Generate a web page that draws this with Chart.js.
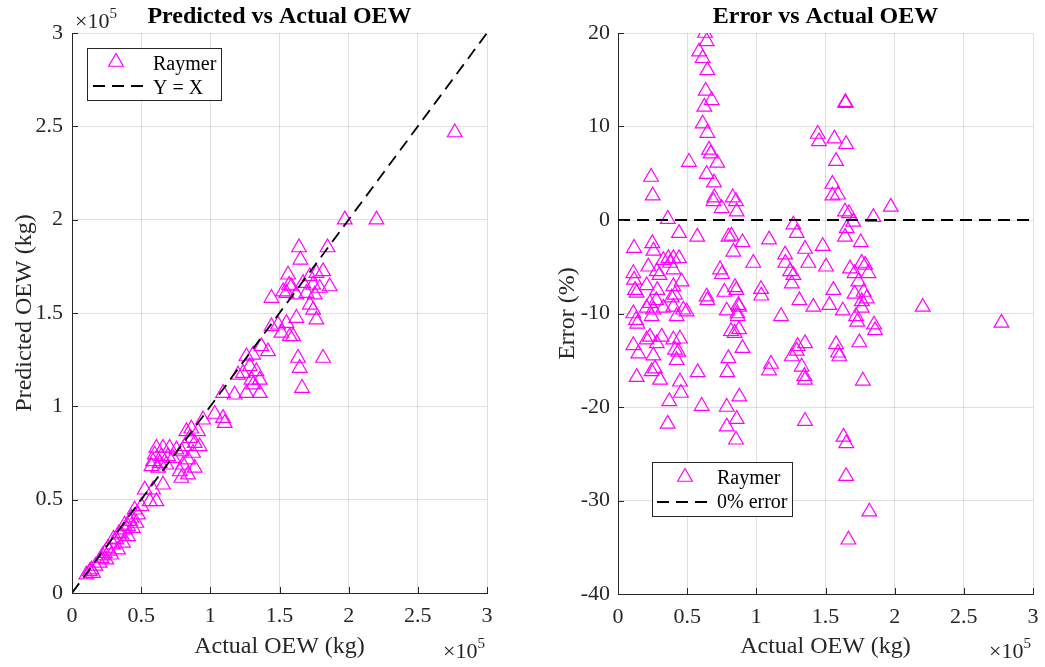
<!DOCTYPE html>
<html>
<head>
<meta charset="utf-8">
<script src="https://cdn.jsdelivr.net/npm/chart.js@4.4.1/dist/chart.umd.min.js"></script>
<style>
  html, body { margin: 0; padding: 0; background: #fff; }
  #wrap { position: relative; width: 1045px; height: 667px; }
  canvas { position: absolute; top: 0; }
  #left { left: 0; }
  #right { left: 522px; }
</style>
</head>
<body>
<div id="wrap">
  <canvas id="left" width="522" height="667"></canvas>
  <canvas id="right" width="523" height="667"></canvas>
</div>
<script>
var FONT = '"Liberation Serif", "Times New Roman", serif';
var INK = '#262626';
var GRID = 'rgba(38,38,38,0.15)';
var MAGENTA = '#ff00ff';

// left panel: actual OEW vs predicted OEW (kg), Raymer method
var predActual = [276700, 197200, 220100, 164100, 184700, 165100, 156200, 157000, 144200, 152600,
  158600, 167000, 171900, 176700, 181500, 174300, 179100, 186300, 169500, 175500,
  162200, 155000, 171900, 174300, 176700, 162200, 155000, 149000, 144200, 151400,
  157400, 159800, 163400, 164600, 181500, 166300, 141700, 136900, 130900, 126100,
  128500, 133300, 123600, 120000, 129700, 135700, 130900, 126100, 135700, 117600,
  109200, 103200, 109200, 110400, 94700, 82700, 86300, 91100, 85100, 88700,
  92300, 81500, 79100, 87500, 83900, 80300, 88700, 77900, 79100, 83900,
  61000, 65800, 70600, 75500, 59800, 64600, 69400, 73000, 58600, 63400,
  68200, 57400, 62200, 52600, 58600, 65800, 56200, 61000, 50200, 45300,
  47700, 43000, 46500, 40500, 44000, 38000, 35700, 40500, 32100, 36900,
  29600, 26000, 33300, 23600, 28400, 21200, 24800, 20000, 12800, 15200,
  10400, 14000, 30000, 38000, 42000, 34000, 22000, 17000, 27000];
var predValue = [246700, 200000, 200000, 185100, 185100, 178500, 170500, 165000, 158000, 161500,
  164200, 166000, 169600, 171400, 172300, 165100, 163400, 164200, 160700, 159800,
  159800, 160700, 154400, 151700, 146400, 147300, 144600, 143700, 142800, 139300,
  137500, 137500, 125900, 120500, 125900, 109800, 129400, 132100, 127600, 126700,
  121400, 118700, 117800, 116900, 114200, 114200, 111600, 107100, 107100, 106200,
  107100, 95900, 93700, 91000, 92800, 86600, 88000, 86600, 83000, 80300,
  78500, 78500, 75800, 75000, 71400, 68700, 67000, 65100, 61600, 63400,
  77700, 77700, 77700, 76800, 74100, 73200, 73200, 72300, 70500, 69600,
  68700, 67800, 67000, 55300, 55300, 58000, 49100, 49100, 46400, 44600,
  42000, 40200, 37500, 35700, 34800, 33900, 31200, 30300, 28600, 26800,
  25900, 24100, 23200, 21400, 20500, 18700, 17900, 16100, 11600, 10700,
  9800, 12500, 29000, 36500, 38500, 32000, 20000, 14500, 22500];

// right panel: actual OEW (kg) vs prediction error (%)
var errActual = [62900, 64100, 58600, 61200, 64600, 63400, 67700, 62400, 61200, 64600,
  65800, 67000, 71800, 51300, 23900, 25100, 64100, 69400, 69600, 69000,
  75000, 82900, 85300, 85800, 36000, 44100, 57300, 11600, 24800, 25600,
  79800, 82000, 90000, 83400, 109200, 97800, 120800, 129200, 126800, 135200,
  137600, 121000, 124400, 126800, 125600, 131100, 141200, 117900, 73800, 75200,
  84600, 85500, 76900, 103400, 103600, 64100, 64600, 78600, 87000, 87500,
  86300, 86500, 81700, 87500, 84300, 90000, 79800, 79000, 110600, 109200,
  129900, 129200, 125600, 135200, 132800, 134700, 135200, 57600, 44800, 45500,
  11100, 11600, 12300, 13500, 11100, 13000, 14000, 21900, 20700, 28000,
  30000, 32800, 36400, 40000, 44100, 37600, 40000, 46000, 40000, 28400,
  41200, 38800, 27700, 23100, 20700, 25500, 32800, 40000, 47200, 49600,
  42400, 24300, 11100, 14700, 20700, 23100, 28000, 31600, 25500, 40000,
  44800, 41200, 43600, 42400, 13500, 24300, 26700, 30400, 37100, 87700,
  35900, 60500, 78600, 85800, 78600, 85300, 135200, 164400, 164400, 144400,
  145300, 156400, 164900, 157600, 155000, 155000, 159000, 164100, 167000, 170000,
  184600, 197200, 165300, 164100, 175500, 148000, 150400, 167700, 176200, 178700,
  181000, 171000, 173800, 155700, 171000, 177600, 179800, 176200, 152800, 162500,
  176200, 172100, 173000, 185100, 185800, 220300, 277200, 157600, 159000, 160000,
  174500, 177000, 163000, 165000, 164900, 181700, 166600];
var errPercent = [20.0, 19.1, 18.0, 17.3, 16.0, 13.8, 12.8, 12.1, 10.3, 9.3,
  7.5, 7.1, 6.1, 6.2, 4.6, 2.6, 4.9, 4.0, 2.4, 2.0,
  1.25, 2.4, 2.0, 0.9, 0.1, -1.4, -1.8, -3.0, -2.5, -3.3,
  -1.8, -1.7, -2.4, -3.4, -2.1, -4.6, -3.7, -1.4, -0.5, -3.1,
  -4.6, -4.6, -5.5, -5.9, -6.8, -8.6, -9.3, -10.3, -5.3, -5.8,
  -7.2, -7.5, -7.7, -7.4, -8.1, -8.2, -8.6, -9.7, -9.1, -9.3,
  -10.0, -10.3, -11.9, -11.7, -12.1, -13.7, -14.8, -16.3, -15.4, -16.1,
  -13.5, -14.0, -14.6, -13.2, -15.7, -16.7, -17.1, -16.3, -17.3, -18.5,
  -5.7, -6.4, -7.5, -7.8, -10.0, -10.7, -11.1, -5.0, -7.0, -5.5,
  -5.9, -4.3, -4.1, -4.1, -4.1, -4.6, -5.3, -6.6, -7.1, -7.5,
  -8.0, -8.3, -8.6, -8.9, -9.4, -9.6, -9.4, -9.3, -9.6, -9.8,
  -10.3, -10.3, -13.4, -14.3, -12.8, -12.5, -13.2, -12.5, -14.5, -12.8,
  -12.7, -13.9, -14.1, -15.0, -16.8, -16.2, -15.9, -17.1, -19.4, -18.9,
  -21.8, -19.9, -20.0, -21.3, -22.1, -23.5, -21.5, 12.5, 12.6, 9.2,
  8.4, 8.7, 8.1, 6.3, 3.85, 2.6, 2.7, 0.9, 0.7, -0.2,
  0.3, 1.4, -0.9, -1.8, -2.4, -2.8, -5.0, -5.2, -4.6, -4.8,
  -5.7, -5.7, -6.6, -7.5, -7.9, -7.7, -8.4, -8.7, -9.1, -9.7,
  -9.4, -10.3, -10.9, -11.2, -11.8, -9.3, -11.0, -13.3, -14.2, -14.6,
  -13.1, -17.2, -23.2, -23.9, -27.4, -31.2, -34.2];

var MARKER = 8.5;

function zip(xs, ys) {
  return xs.map(function (x, i) { return { x: x, y: ys[i] }; });
}

function drawTriangle(ctx, x, y, r) {
  var s = r * Math.sin(Math.PI / 3);
  ctx.beginPath();
  ctx.moveTo(x, y - r);
  ctx.lineTo(x + s, y + r / 2);
  ctx.lineTo(x - s, y + r / 2);
  ctx.closePath();
  ctx.stroke();
}

function drawTimesTen(ctx, x, baseline, alignRight) {
  ctx.font = '22px ' + FONT;
  var w = ctx.measureText('\u00d710').width;
  ctx.font = '15px ' + FONT;
  var w5 = ctx.measureText('5').width;
  var x0 = alignRight ? x - w - w5 : x;
  ctx.textAlign = 'left';
  ctx.font = '22px ' + FONT;
  ctx.fillText('\u00d710', x0, baseline);
  ctx.font = '15px ' + FONT;
  ctx.fillText('5', x0 + w, baseline - 10);
}

function decor(cfg) {
  return {
    id: 'decor',
    afterDraw: function (chart) {
      var ctx = chart.ctx, a = chart.chartArea;
      var xs = chart.scales.x, ys = chart.scales.y;
      ctx.save();
      // inward tick marks
      ctx.strokeStyle = INK;
      ctx.lineWidth = 1;
      ctx.beginPath();
      xs.ticks.forEach(function (t) {
        var px = Math.round(xs.getPixelForValue(t.value)) + 0.5;
        ctx.moveTo(px, a.bottom); ctx.lineTo(px, a.bottom - 6);
      });
      ys.ticks.forEach(function (t) {
        var py = Math.round(ys.getPixelForValue(t.value)) + 0.5;
        ctx.moveTo(a.left, py); ctx.lineTo(a.left + 6, py);
      });
      ctx.stroke();

      var cx = (a.left + a.right) / 2;
      ctx.textBaseline = 'alphabetic';
      ctx.textAlign = 'center';
      ctx.fillStyle = '#000';
      ctx.font = 'bold 24px ' + FONT;
      ctx.fillText(cfg.title, cx, 23);

      ctx.fillStyle = INK;
      ctx.font = '24px ' + FONT;
      ctx.fillText(cfg.xLabel, cx, 653);
      ctx.save();
      ctx.translate(cfg.yLabelX, (a.top + a.bottom) / 2);
      ctx.rotate(-Math.PI / 2);
      ctx.fillText(cfg.yLabel, 0, 0);
      ctx.restore();

      // x10^5 multipliers
      drawTimesTen(ctx, a.right - 2, 658, true);
      if (cfg.topExp) drawTimesTen(ctx, a.left + 3, 28, false);

      // legend
      var L = cfg.legend;
      ctx.fillStyle = '#fff';
      ctx.fillRect(L.x, L.y, L.w, L.h);
      ctx.strokeStyle = INK;
      ctx.lineWidth = 1;
      ctx.strokeRect(L.x + 0.5, L.y + 0.5, L.w, L.h);
      ctx.strokeStyle = MAGENTA;
      ctx.lineWidth = 1.2;
      drawTriangle(ctx, L.mx, L.my, MARKER);
      ctx.strokeStyle = '#000';
      ctx.lineWidth = 1.8;
      ctx.setLineDash([12, 7]);
      ctx.beginPath();
      ctx.moveTo(L.dx0, L.dy); ctx.lineTo(L.dx1, L.dy);
      ctx.stroke();
      ctx.setLineDash([]);
      ctx.fillStyle = '#000';
      ctx.font = '20px ' + FONT;
      ctx.textAlign = 'left';
      ctx.fillText('Raymer', L.tx, L.b1);
      ctx.fillText(cfg.lineName, L.tx, L.b2);
      ctx.restore();
    }
  };
}

function axis(min, max, step, pad, kilo) {
  return {
    type: 'linear',
    min: min,
    max: max,
    ticks: {
      stepSize: step,
      color: INK,
      padding: pad,
      autoSkip: false,
      maxRotation: 0,
      font: { family: FONT, size: 22 },
      callback: function (v) { return kilo ? String(v / 1e5) : String(v); }
    },
    grid: { color: GRID, drawTicks: false },
    border: { color: INK, width: 1 }
  };
}

function fixX(h) {
  return function (s) { s.height = h; s.paddingLeft = 0; s.paddingRight = 0; s.paddingTop = 0; s.paddingBottom = 0; };
}
function fixY(w) {
  return function (s) { s.width = w; s.paddingLeft = 0; s.paddingRight = 0; s.paddingTop = 0; s.paddingBottom = 0; };
}

function scatterSet(points) {
  return {
    type: 'scatter',
    data: points,
    pointStyle: 'triangle',
    pointRadius: MARKER,
    pointBorderColor: MAGENTA,
    pointBackgroundColor: 'rgba(0,0,0,0)',
    pointBorderWidth: 1.2,
    order: 1
  };
}

function refLine(points) {
  return {
    type: 'line',
    data: points,
    borderColor: '#000',
    borderWidth: 1.8,
    borderDash: [12, 7],
    pointRadius: 0,
    fill: false,
    order: 0
  };
}

// left chart
var lx = axis(0, 300000, 50000, 10, true); lx.afterFit = fixX(74);
var ly = axis(0, 300000, 50000, 9, true); ly.afterFit = fixY(72);
new Chart(document.getElementById('left'), {
  type: 'scatter',
  data: { datasets: [scatterSet(zip(predActual, predValue)), refLine([{ x: 0, y: 0 }, { x: 300000, y: 300000 }])] },
  options: {
    responsive: false,
    animation: false,
    events: [],
    layout: { padding: { left: 0, top: 33, right: 35, bottom: 0 } },
    plugins: { legend: { display: false }, tooltip: { enabled: false } },
    scales: { x: lx, y: ly }
  },
  plugins: [decor({
    title: 'Predicted vs Actual OEW', xLabel: 'Actual OEW (kg)', yLabel: 'Predicted OEW (kg)',
    yLabelX: 31, topExp: true, lineName: 'Y = X',
    legend: { x: 87, y: 48, w: 134, h: 52, mx: 116, my: 62, tx: 153, b1: 70, b2: 94, dx0: 93, dx1: 148, dy: 86 }
  })]
});

// right chart
var rx = axis(0, 300000, 50000, 10, true); rx.afterFit = fixX(73);
var ry = axis(-40, 20, 10, 8, false); ry.afterFit = fixY(96);
new Chart(document.getElementById('right'), {
  type: 'scatter',
  data: { datasets: [scatterSet(zip(errActual, errPercent)), refLine([{ x: 0, y: 0 }, { x: 300000, y: 0 }])] },
  options: {
    responsive: false,
    animation: false,
    events: [],
    layout: { padding: { left: 0, top: 33, right: 12, bottom: 0 } },
    plugins: { legend: { display: false }, tooltip: { enabled: false } },
    scales: { x: rx, y: ry }
  },
  plugins: [decor({
    title: 'Error vs Actual OEW', xLabel: 'Actual OEW (kg)', yLabel: 'Error (%)',
    yLabelX: 52, topExp: false, lineName: '0% error',
    legend: { x: 130, y: 462, w: 140, h: 54, mx: 163, my: 477, tx: 195, b1: 484, b2: 508, dx0: 135, dx1: 190, dy: 502 }
  })]
});
</script>
</body>
</html>
